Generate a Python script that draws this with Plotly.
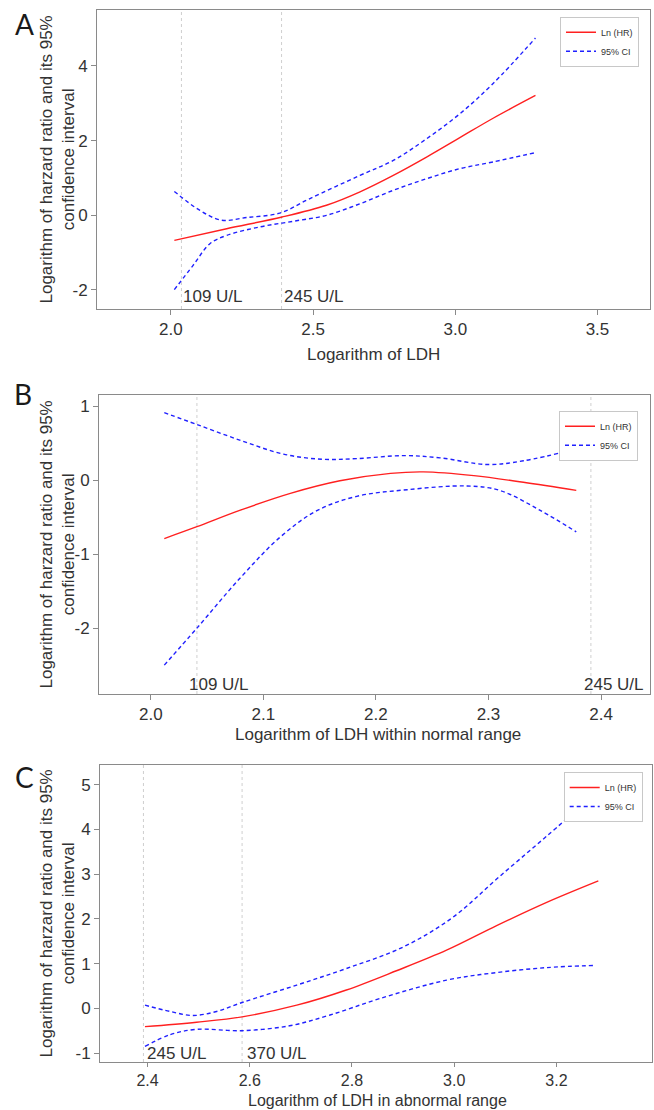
import plotly.graph_objects as go

# ---------------- data ----------------
# Panel A
A_hr_x = [2.012, 2.196, 2.391, 2.547, 2.665, 2.782, 2.899, 3.016, 3.133, 3.282]
A_hr_y = [-0.67, -0.36, -0.045, 0.27, 0.63, 1.07, 1.56, 2.08, 2.60, 3.21]
A_up_x = [2.012, 2.102, 2.178, 2.266, 2.383, 2.489, 2.665, 2.782, 2.899, 3.016, 3.133, 3.282]
A_up_y = [0.64, 0.13, -0.13, -0.06, 0.06, 0.45, 1.07, 1.47, 2.05, 2.72, 3.53, 4.75]
A_lo_x = [2.012, 2.078, 2.137, 2.196, 2.313, 2.43, 2.547, 2.665, 2.782, 2.899, 3.016, 3.133, 3.282]
A_lo_y = [-1.99, -1.34, -0.76, -0.54, -0.31, -0.16, 0.0, 0.31, 0.67, 0.98, 1.25, 1.43, 1.68]
A_cut_x = [2.037, 2.389]
A_cut_lab = ["109 U/L", "245 U/L"]

# Panel B
B_hr_x = [2.012, 2.041, 2.079, 2.124, 2.168, 2.213, 2.242, 2.287, 2.331, 2.378]
B_hr_y = [-0.79, -0.63, -0.41, -0.18, -0.01, 0.09, 0.11, 0.06, -0.03, -0.14]
B_up_x = [2.012, 2.041, 2.079, 2.118, 2.153, 2.183, 2.225, 2.257, 2.299, 2.331, 2.378]
B_up_y = [0.91, 0.75, 0.54, 0.35, 0.28, 0.29, 0.33, 0.30, 0.21, 0.26, 0.42]
B_lo_x = [2.012, 2.041, 2.079, 2.115, 2.148, 2.183, 2.228, 2.281, 2.31, 2.346, 2.378]
B_lo_y = [-2.50, -2.00, -1.33, -0.77, -0.41, -0.22, -0.13, -0.08, -0.14, -0.41, -0.70]
B_cut_x = [2.041, 2.391]
B_cut_lab = ["109 U/L", "245 U/L"]

# Panel C
C_hr_x = [2.395, 2.496, 2.585, 2.692, 2.789, 2.887, 2.985, 3.083, 3.181, 3.282]
C_hr_y = [-0.41, -0.31, -0.19, 0.07, 0.41, 0.84, 1.30, 1.85, 2.37, 2.85]
C_up_x = [2.395, 2.444, 2.489, 2.535, 2.585, 2.692, 2.789, 2.90, 2.998, 3.083, 3.181, 3.282]
C_up_y = [0.07, -0.07, -0.16, -0.07, 0.13, 0.52, 0.89, 1.37, 2.04, 2.89, 3.85, 4.85]
C_lo_x = [2.395, 2.444, 2.496, 2.585, 2.678, 2.757, 2.855, 2.985, 3.083, 3.181, 3.275]
C_lo_y = [-0.85, -0.59, -0.47, -0.50, -0.39, -0.15, 0.22, 0.63, 0.80, 0.91, 0.96]
C_cut_x = [2.392, 2.585]
C_cut_lab = ["245 U/L", "370 U/L"]

Y_TITLE = "Logarithm of harzard ratio and its 95%<br>confidence interval"
X_TITLES = ["Logarithm of LDH", "Logarithm of LDH within normal range",
            "Logarithm of LDH in abnormal range"]
PANEL_LETTERS = ["A", "B", "C"]

# ---------------- layout helpers ----------------
W, H = 654, 1110
FONT = "Liberation Sans, Arial, Helvetica, sans-serif"
TXT = "#333333"
AX = "#8a8a8a"
RED = "#ff2020"
BLUE = "#2020ff"

# plot boxes in pixels: (left, right, top, bottom)
boxes = [(97, 649.5, 10, 309), (99, 650, 395, 694), (100, 652, 765, 1062)]
xranges = [[1.740, 3.683], [1.954, 2.4435], [2.307, 3.387]]
yranges = [[-2.51, 5.5], [-2.89, 1.149], [-1.20, 5.44]]
xticks = [[2.0, 2.5, 3.0, 3.5], [2.0, 2.1, 2.2, 2.3, 2.4], [2.4, 2.6, 2.8, 3.0, 3.2]]
yticks = [[-2, 0, 2, 4], [-2, -1, 0, 1], [-1, 0, 1, 2, 3, 4, 5]]
ticklens = [5, 5, 4]
xtick_font = [17, 17, 16]
xtitle_font = [17, 17, 16]
xtitle_y = [354, 734, 1100.5]
xtitle_x = [373, 378, 377]
letter_pos = [(24, 24), (23, 394), (24, 777)]
legend_pos = [(639, 16.7), (638, 410.7), (642.7, 772)]
cut_label_y = [-2.17, -2.76, -1.02]
cut_label_dx = [[0.0, 0.0], [-0.009, -0.008], [0.003, 0.005]]

panels = [
    (A_hr_x, A_hr_y, A_up_x, A_up_y, A_lo_x, A_lo_y, A_cut_x, A_cut_lab),
    (B_hr_x, B_hr_y, B_up_x, B_up_y, B_lo_x, B_lo_y, B_cut_x, B_cut_lab),
    (C_hr_x, C_hr_y, C_up_x, C_up_y, C_lo_x, C_lo_y, C_cut_x, C_cut_lab),
]

fig = go.Figure()
layout = dict(width=W, height=H, margin=dict(l=0, r=0, t=0, b=0),
              paper_bgcolor="white", plot_bgcolor="white",
              font=dict(family=FONT, color=TXT, size=17))
annotations = []
shapes = []

for i, (hx, hy, ux, uy, lx, ly, cx, clab) in enumerate(panels):
    n = "" if i == 0 else str(i + 1)
    xa, ya = "x" + n, "y" + n
    leg = "legend" + n
    l, r, t, b = boxes[i]

    fig.add_trace(go.Scatter(x=hx, y=hy, mode="lines", name="Ln (HR)",
                             line=dict(color=RED, width=1.4, shape="spline"),
                             xaxis=xa, yaxis=ya, legend=leg, showlegend=True))
    fig.add_trace(go.Scatter(x=ux, y=uy, mode="lines", name="95% CI",
                             line=dict(color=BLUE, width=1.4, dash="4px,3px", shape="spline"),
                             xaxis=xa, yaxis=ya, legend=leg, showlegend=True))
    fig.add_trace(go.Scatter(x=lx, y=ly, mode="lines", name="95% CI",
                             line=dict(color=BLUE, width=1.4, dash="4px,3px", shape="spline"),
                             xaxis=xa, yaxis=ya, legend=leg, showlegend=False))

    axis_common = dict(showline=True, linecolor=AX, linewidth=1, mirror=True,
                       showgrid=False, zeroline=False, ticks="outside",
                       tickcolor=AX, tickwidth=1)
    layout["xaxis" + n] = dict(axis_common, domain=[l / W, r / W], range=xranges[i],
                               ticklen=ticklens[i],
                               tickfont=dict(size=xtick_font[i], color=TXT, family=FONT),
                               tickvals=xticks[i], ticktext=[f"{v:.1f}" for v in xticks[i]],
                               anchor=ya)
    layout["yaxis" + n] = dict(axis_common, domain=[1 - b / H, 1 - t / H], range=yranges[i],
                               ticklen=5,
                               tickfont=dict(size=17, color=TXT, family=FONT),
                               tickvals=yticks[i],
                               ticktext=[("-" + str(-v)) if v < 0 else str(v) for v in yticks[i]],
                               anchor=xa)

    lx_, ly_ = legend_pos[i]
    layout[leg] = dict(x=lx_ / W, y=1 - ly_ / H, xanchor="right", yanchor="top",
                       bgcolor="white", bordercolor="#c8c8c8", borderwidth=1,
                       font=dict(size=9, color=TXT, family=FONT),
                       itemwidth=30, tracegroupgap=0)

    for j, (cv, lab) in enumerate(zip(cx, clab)):
        shapes.append(dict(type="line", xref=xa, yref=ya + " domain", x0=cv, x1=cv,
                           y0=0, y1=1, layer="below",
                           line=dict(color="#cfcfcf", width=1, dash="dot")))
        annotations.append(dict(x=cv + cut_label_dx[i][j], y=cut_label_y[i], xref=xa, yref=ya,
                                text=lab, showarrow=False, xanchor="left", yanchor="middle",
                                font=dict(size=17, color=TXT, family=FONT)))

    annotations.append(dict(x=xtitle_x[i] / W, y=1 - xtitle_y[i] / H, xref="paper", yref="paper",
                            text=X_TITLES[i], showarrow=False, xanchor="center", yanchor="middle",
                            font=dict(size=xtitle_font[i], color=TXT, family=FONT)))
    annotations.append(dict(x=57 / W, y=1 - ((t + b) / 2) / H, xref="paper", yref="paper",
                            text=Y_TITLE, showarrow=False, textangle=-90,
                            xanchor="center", yanchor="middle",
                            font=dict(size=17, color=TXT, family=FONT)))
    px_, py_ = letter_pos[i]
    annotations.append(dict(x=px_ / W, y=1 - py_ / H, xref="paper", yref="paper",
                            text=PANEL_LETTERS[i], showarrow=False,
                            xanchor="center", yanchor="middle",
                            font=dict(size=28, color="#1a1a1a", family="Lato, Open Sans, sans-serif")))

layout["annotations"] = annotations
layout["shapes"] = shapes
fig.update_layout(**layout)
fig.write_html("out.html",
               config={"displayModeBar": False},
               post_script="document.body.style.margin='0';document.body.style.padding='0';"
                           "document.documentElement.style.overflow='hidden';")
